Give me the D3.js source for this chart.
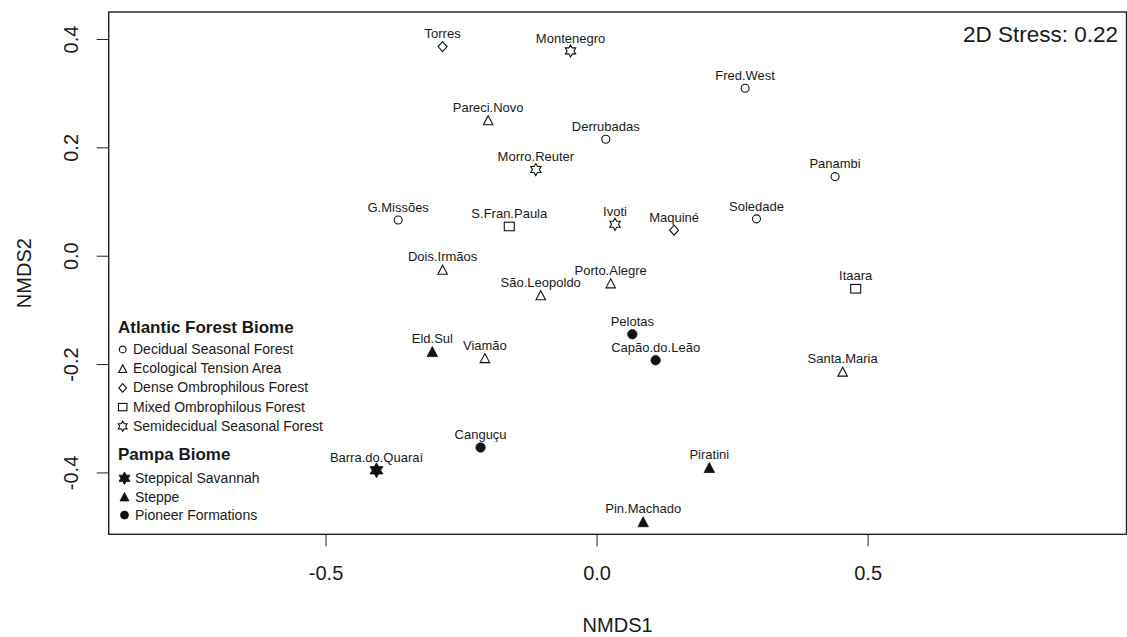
<!DOCTYPE html>
<html>
<head>
<meta charset="utf-8">
<script src="https://cdn.jsdelivr.net/npm/d3@7"></script>
<style>
  body { margin: 0; background: #fff; }
  svg { display: block; font-family: 'Liberation Sans', Arial, sans-serif; }
  text { fill: #1a1a1a; }
</style>
</head>
<body>
<svg id="chart" width="1127" height="637"></svg>
<script>
// site scores
const sites = ['Torres', 'Montenegro', 'Pareci.Novo', 'Derrubadas', 'Morro.Reuter',
  'G.Missões', 'S.Fran.Paula', 'Ivoti', 'Maquiné', 'Fred.West', 'Panambi', 'Soledade',
  'Itaara', 'Dois.Irmãos', 'Porto.Alegre', 'São.Leopoldo', 'Pelotas', 'Eld.Sul', 'Viamão',
  'Capão.do.Leão', 'Canguçu', 'Barra.do.Quaraí', 'Pin.Machado', 'Santa.Maria', 'Piratini']
const nmds1 = [-0.284, -0.048, -0.200, 0.017, -0.112,
  -0.366, -0.161, 0.034, 0.143, 0.274, 0.440, 0.295,
  0.478, -0.284, 0.026, -0.103, 0.066, -0.303, -0.206,
  0.109, -0.214, -0.406, 0.086, 0.454, 0.208]
const nmds2 = [0.386, 0.378, 0.250, 0.215, 0.159,
  0.066, 0.054, 0.058, 0.047, 0.309, 0.146, 0.068,
  -0.061, -0.026, -0.051, -0.073, -0.145, -0.177, -0.189,
  -0.193, -0.354, -0.396, -0.491, -0.214, -0.391]
const vegType = ['dense', 'semi', 'tension', 'decidual', 'semi',
  'decidual', 'mixed', 'semi', 'dense', 'decidual', 'decidual', 'decidual',
  'mixed', 'tension', 'tension', 'tension', 'pioneer', 'steppe', 'tension',
  'pioneer', 'pioneer', 'savannah', 'steppe', 'tension', 'steppe']

const atlanticTypes = ['decidual', 'tension', 'dense', 'mixed', 'semi']
const atlanticLabels = ['Decidual Seasonal Forest', 'Ecological Tension Area',
  'Dense Ombrophilous Forest', 'Mixed Ombrophilous Forest', 'Semidecidual Seasonal Forest']
const pampaTypes = ['savannah', 'steppe', 'pioneer']
const pampaLabels = ['Steppical Savannah', 'Steppe', 'Pioneer Formations']

const xTicks = [-0.5, 0.0, 0.5]
const yTicks = [-0.4, -0.2, 0.0, 0.2, 0.4]
const stress = '2D Stress: 0.22'

const box = { left: 108.7, right: 1126.5, top: 12, bottom: 534.3 }
const svg = d3.select('#chart')

const x = d3.scaleLinear().domain([-0.9, 0.9776]).range([box.left, box.right])
const y = d3.scaleLinear().domain([-0.5142, 0.4498]).range([box.bottom, box.top])

// symbol path builders, all centered on 0,0
function hexagram(R) {
  let pts = []
  for (let k = 0; k < 12; k++) {
    let a = (k * 30 - 90) * Math.PI / 180
    let r = k % 2 === 0 ? R : R / Math.sqrt(3)
    pts.push([r * Math.cos(a), r * Math.sin(a)])
  }
  return 'M' + pts.map(p => p.join(',')).join('L') + 'Z'
}
function triangle(w, h) {
  return 'M0,' + (-h / 2) + 'L' + (w / 2) + ',' + (h / 2) + 'L' + (-w / 2) + ',' + (h / 2) + 'Z'
}

function drawSymbol(g, type, scale) {
  let s = scale || 1
  let open = { fill: '#fff', stroke: '#111', 'stroke-width': 1.1 }
  let solid = { fill: '#111', stroke: '#111', 'stroke-width': 0.8 }
  let el
  if (type === 'decidual') el = g.append('circle').attr('r', 4 * s)
  else if (type === 'tension') el = g.append('path').attr('d', triangle(9.5 * s, 9 * s))
  else if (type === 'dense') el = g.append('path').attr('d', 'M0,' + (-5 * s) + 'L' + (4.5 * s) + ',0L0,' + (5 * s) + 'L' + (-4.5 * s) + ',0Z')
  else if (type === 'mixed') el = g.append('rect').attr('x', -5 * s).attr('y', -4.3 * s).attr('width', 10 * s).attr('height', 8.6 * s)
  else if (type === 'semi') el = g.append('path').attr('d', hexagram(6 * s))
  else if (type === 'savannah') el = g.append('path').attr('d', hexagram(7.4 * s))
  else if (type === 'steppe') el = g.append('path').attr('d', triangle(10.5 * s, 10 * s))
  else el = g.append('circle').attr('r', 4.7 * s)
  let style = ['savannah', 'steppe', 'pioneer'].includes(type) ? solid : open
  Object.keys(style).forEach(k => el.attr(k, style[k]))
}

// points with labels above them
let pts = svg.append('g').selectAll('g')
  .data(sites.map((s, i) => ({ name: s, x: nmds1[i], y: nmds2[i], type: vegType[i] })))
  .join('g')
  .attr('transform', d => 'translate(' + x(d.x) + ',' + y(d.y) + ')')
pts.each(function(d) { drawSymbol(d3.select(this), d.type) })
pts.append('text')
  .attr('text-anchor', 'middle')
  .attr('y', -8.3)
  .attr('font-size', 13)
  .text(d => d.name)

// axes
let fmt = d => d.toFixed(1)
let xAxis = svg.append('g')
  .attr('transform', 'translate(0,' + box.bottom + ')')
  .call(d3.axisBottom(x).tickValues(xTicks).tickFormat(fmt).tickSize(12).tickSizeOuter(0))
xAxis.select('.domain').remove()
xAxis.selectAll('line').attr('stroke', '#222')
xAxis.selectAll('text')
  .attr('y', 46).attr('dy', 0)
  .attr('font-size', 20).attr('font-family', null).style('fill', '#1a1a1a')

let yAxis = svg.append('g')
  .attr('transform', 'translate(' + box.left + ',0)')
  .call(d3.axisLeft(y).tickValues(yTicks).tickFormat(fmt).tickSize(12).tickSizeOuter(0))
yAxis.select('.domain').remove()
yAxis.selectAll('line').attr('stroke', '#222')
yAxis.selectAll('text')
  .attr('x', null).attr('dy', null)
  .attr('text-anchor', 'middle')
  .attr('transform', 'translate(-30.5,0) rotate(-90)')
  .attr('font-size', 20).attr('font-family', null).style('fill', '#1a1a1a')

svg.append('rect')
  .attr('x', box.left).attr('y', box.top)
  .attr('width', box.right - box.left).attr('height', box.bottom - box.top)
  .attr('fill', 'none').attr('stroke', '#222').attr('stroke-width', 1.4)

svg.append('text')
  .attr('x', (box.left + box.right) / 2).attr('y', 632)
  .attr('text-anchor', 'middle').attr('font-size', 20)
  .text('NMDS1')
svg.append('text')
  .attr('transform', 'translate(31,' + (box.top + box.bottom) / 2 + ') rotate(-90)')
  .attr('text-anchor', 'middle').attr('font-size', 20)
  .text('NMDS2')

svg.append('text')
  .attr('x', 1118).attr('y', 41.5)
  .attr('text-anchor', 'end').attr('font-size', 22.5)
  .text(stress)

// legend
let legend = svg.append('g')
legend.append('text').attr('x', 118).attr('y', 332.7)
  .attr('font-size', 17).attr('font-weight', 'bold').text('Atlantic Forest Biome')
atlanticTypes.forEach(function(t, i) {
  let by = 354 + i * 19.2
  drawSymbol(legend.append('g').attr('transform', 'translate(122.7,' + (by - 4.5) + ')'), t, 0.85)
  legend.append('text').attr('x', 133).attr('y', by).attr('font-size', 14).text(atlanticLabels[i])
})
legend.append('text').attr('x', 118).attr('y', 460)
  .attr('font-size', 17).attr('font-weight', 'bold').text('Pampa Biome')
pampaTypes.forEach(function(t, i) {
  let by = 483.3 + i * 18.4
  drawSymbol(legend.append('g').attr('transform', 'translate(124.5,' + (by - 5) + ')'), t, 0.85)
  legend.append('text').attr('x', 135).attr('y', by).attr('font-size', 14).text(pampaLabels[i])
})
</script>
</body>
</html>
